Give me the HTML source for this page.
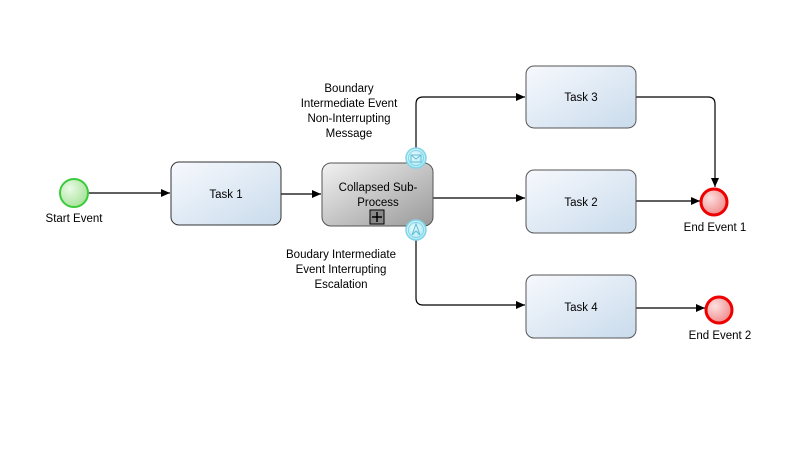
<!DOCTYPE html>
<html><head><meta charset="utf-8"><style>
html,body{margin:0;padding:0;background:#fff;}
svg{display:block;font-family:"Liberation Sans",sans-serif;font-size:11.5px;}
</style></head><body>
<svg width="798" height="463" viewBox="0 0 798 463" xmlns="http://www.w3.org/2000/svg">
<defs>
<linearGradient id="tg" x1="0" y1="0" x2="1" y2="1"><stop offset="0" stop-color="#f7f9fd"/><stop offset="1" stop-color="#c9dbec"/></linearGradient>
<linearGradient id="sg" x1="0" y1="0" x2="1" y2="1"><stop offset="0" stop-color="#f2f2f2"/><stop offset="1" stop-color="#999"/></linearGradient>
<radialGradient id="gg" cx="0.35" cy="0.35" r="0.7"><stop offset="0" stop-color="#eafbe6"/><stop offset="1" stop-color="#a7e39a"/></radialGradient>
<radialGradient id="rg" cx="0.35" cy="0.35" r="0.7"><stop offset="0" stop-color="#fde0e0"/><stop offset="1" stop-color="#f08a8a"/></radialGradient>
<radialGradient id="bg" cx="0.4" cy="0.4" r="0.7"><stop offset="0" stop-color="#e6f8fc"/><stop offset="1" stop-color="#aee6f2"/></radialGradient>
<marker id="a" markerWidth="10" markerHeight="8" refX="9" refY="4" orient="auto" markerUnits="userSpaceOnUse"><path d="M0,0 L9,4 L0,8 z" fill="#000"/></marker>
</defs>
<g stroke="#000" stroke-width="1.2" fill="none">
<line x1="88" y1="193" x2="170" y2="193" marker-end="url(#a)"/>
<line x1="281" y1="194" x2="321" y2="194" marker-end="url(#a)"/>
<line x1="433" y1="198" x2="525" y2="198" marker-end="url(#a)"/>
<path d="M416,148 V104 Q416,97 423,97 H525" marker-end="url(#a)"/>
<path d="M636,97 H708 Q715,97 715,104 V187" marker-end="url(#a)"/>
<line x1="636" y1="201" x2="700" y2="201" marker-end="url(#a)"/>
<path d="M416,240 V298 Q416,305 423,305 H525" marker-end="url(#a)"/>
<line x1="636" y1="308" x2="705" y2="308" marker-end="url(#a)"/>
</g>
<circle cx="74" cy="193" r="14" fill="url(#gg)" stroke="#3ccb3c" stroke-width="2"/>
<rect x="171" y="162" width="110" height="63" rx="8" fill="url(#tg)" stroke="#333" stroke-width="1"/>
<rect x="322" y="163" width="111" height="63" rx="9" fill="url(#sg)" stroke="#555" stroke-width="1"/>
<rect x="370" y="210" width="14" height="14" fill="#888" stroke="#000" stroke-width="1"/>
<path d="M377,212 V222 M372,217 H382" stroke="#000" stroke-width="1.5"/>
<circle cx="416" cy="158" r="10" fill="url(#bg)" stroke="#7fd6e8" stroke-width="1.5"/>
<circle cx="416" cy="158" r="7.5" fill="none" stroke="#7fd6e8" stroke-width="1"/>
<rect x="411" y="155" width="10" height="7" fill="none" stroke="#5bbfd6" stroke-width="1"/>
<path d="M411,155 L416,159 L421,155" fill="none" stroke="#5bbfd6" stroke-width="1"/>
<circle cx="416" cy="230" r="10" fill="url(#bg)" stroke="#7fd6e8" stroke-width="1.5"/>
<circle cx="416" cy="230" r="7.5" fill="none" stroke="#7fd6e8" stroke-width="1"/>
<path d="M412,235 L416,224 L420,235 L416,231 Z" fill="none" stroke="#5bbfd6" stroke-width="1"/>
<rect x="526" y="66" width="110" height="62" rx="8" fill="url(#tg)" stroke="#555" stroke-width="1"/>
<rect x="526" y="170" width="110" height="63" rx="8" fill="url(#tg)" stroke="#555" stroke-width="1"/>
<rect x="526" y="275" width="110" height="63" rx="8" fill="url(#tg)" stroke="#555" stroke-width="1"/>
<circle cx="714" cy="202" r="13" fill="url(#rg)" stroke="#e00" stroke-width="3"/>
<circle cx="719" cy="310" r="13" fill="url(#rg)" stroke="#e00" stroke-width="3"/>
<g fill="#000" text-anchor="middle">
<text x="74" y="222">Start Event</text>
<text x="226" y="198">Task 1</text>
<text x="378" y="191">Collapsed Sub-</text>
<text x="378" y="206">Process</text>
<text x="581" y="101">Task 3</text>
<text x="581" y="206">Task 2</text>
<text x="581" y="311">Task 4</text>
<text x="715" y="231">End Event 1</text>
<text x="720" y="339">End Event 2</text>
<text x="349" y="92">Boundary</text>
<text x="349" y="107">Intermediate Event</text>
<text x="349" y="122">Non-Interrupting</text>
<text x="349" y="137">Message</text>
<text x="341" y="258">Boudary Intermediate</text>
<text x="341" y="273">Event Interrupting</text>
<text x="341" y="288">Escalation</text>
</g>
</svg>
</body></html>
